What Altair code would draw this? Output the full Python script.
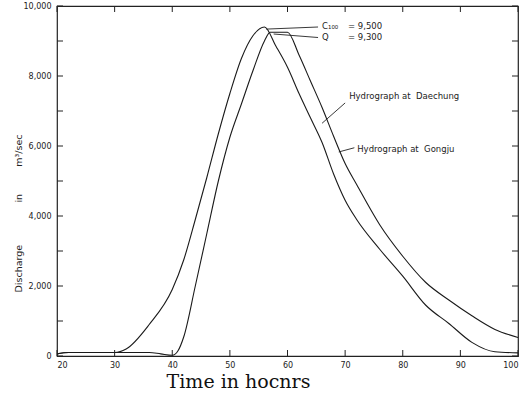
import altair as alt
import pandas as pd

# ---- data ----
dae_t = [20, 22, 30, 32, 36, 40, 42, 44, 46, 48, 50, 52, 54, 56, 58, 60, 62, 64, 66, 68, 70, 72, 76, 80, 84, 88, 92, 96, 100]
dae_q = [60, 100, 100, 200, 900, 1900, 2750, 3900, 5100, 6350, 7500, 8500, 9150, 9400, 8850, 8250, 7500, 6800, 6100, 5200, 4450, 3900, 3050, 2280, 1450, 930, 390, 120, 90]

gon_t = [20, 22, 30, 36, 38, 40, 41, 42, 44, 46, 48, 50, 52, 54, 56, 57, 60, 62, 64, 66, 68, 70, 72, 76, 80, 84, 88, 92, 96, 100]
gon_q = [60, 100, 100, 100, 60, 20, 150, 550, 2000, 3500, 5000, 6250, 7200, 8150, 9000, 9250, 9250, 8600, 7850, 7100, 6280, 5500, 4900, 3750, 2850, 2100, 1600, 1150, 760, 530]

x_ticks = [20, 30, 40, 50, 60, 70, 80, 90, 100]
y_ticks = [0, 2000, 4000, 6000, 8000, 10000]
y_minor = [1000, 3000, 5000, 7000, 9000]

W, H = 461, 350
NB = "\u00a0"

df = pd.DataFrame(
    {"t": dae_t + gon_t,
     "q": dae_q + gon_q,
     "s": ["Daechung"] * len(dae_t) + ["Gongju"] * len(gon_t)}
)

xs = alt.Scale(domain=[20, 100], nice=False, zero=False)
ys = alt.Scale(domain=[0, 10000], nice=False)

lab_font = "DejaVu Sans"
y_title = "Discharge" + NB * 14 + "in" + NB * 9 + "m³/sec"

lines = alt.Chart(df).mark_line(strokeWidth=1.1, interpolate="monotone").encode(
    x=alt.X("t:Q", scale=xs,
            axis=alt.Axis(values=x_ticks, ticks=False, domain=False, grid=False,
                          labelFont=lab_font, labelFontSize=8, labelPadding=5,
                          labelColor="#222",
                          title="Time in hocnrs", titleFont="DejaVu Serif",
                          titleFontSize=19, titleFontWeight="normal", titleColor="#111",
                          titleX=181, titleY=31, titleBaseline="alphabetic")),
    y=alt.Y("q:Q", scale=ys,
            axis=alt.Axis(values=y_ticks, format=",d", ticks=False, domain=False, grid=False,
                          labelFont=lab_font, labelFontSize=8, labelPadding=6,
                          labelColor="#222",
                          title=y_title, titleFont=lab_font,
                          titleFontSize=9.5, titleFontWeight="normal", titleColor="#222",
                          titleAngle=270, titleX=-39, titleY=207,
                          titleAlign="center", titleBaseline="middle")),
    detail="s:N",
    color=alt.value("#1a1a1a"),
)

# inward ticks on all four sides
xt = pd.DataFrame({"v": x_ticks})
yt = pd.DataFrame({"v": y_ticks + y_minor})
tick_bottom = alt.Chart(xt).mark_rule(color="#222", strokeWidth=1).encode(
    x=alt.X("v:Q", scale=xs), y=alt.value(H), y2=alt.value(H - 6))
tick_top = alt.Chart(xt).mark_rule(color="#222", strokeWidth=1).encode(
    x=alt.X("v:Q", scale=xs), y=alt.value(0), y2=alt.value(6))
tick_left = alt.Chart(yt).mark_rule(color="#222", strokeWidth=1).encode(
    y=alt.Y("v:Q", scale=ys), x=alt.value(0), x2=alt.value(6))
tick_right = alt.Chart(yt).mark_rule(color="#222", strokeWidth=1).encode(
    y=alt.Y("v:Q", scale=ys), x=alt.value(W), x2=alt.value(W - 6))

# annotations
ann_lines = pd.DataFrame({
    "x1": [65.3, 65.3, 70.0, 71.6],
    "y1": [9400, 9100, 7230, 5950],
    "x2": [56.3, 57.6, 66.0, 68.9],
    "y2": [9340, 9200, 6650, 5830],
})
leaders = alt.Chart(ann_lines).mark_rule(color="#222", strokeWidth=0.9).encode(
    x=alt.X("x1:Q", scale=xs), y=alt.Y("y1:Q", scale=ys),
    x2="x2:Q", y2="y2:Q")

ann_text = pd.DataFrame({
    "x": [66.0, 66.0, 70.5, 70.5, 70.7, 72.1],
    "y": [9430, 9110, 9430, 9110, 7420, 5920],
    "txt": ["C₁₀₀", "Q", "= 9,500", "= 9,300",
            "Hydrograph" + NB + "at" + NB * 2 + "Daechung",
            "Hydrograph" + NB + "at" + NB * 2 + "Gongju"],
})
texts = alt.Chart(ann_text).mark_text(
    align="left", baseline="middle", font=lab_font, fontSize=8.5, color="#222"
).encode(x=alt.X("x:Q", scale=xs), y=alt.Y("y:Q", scale=ys), text="txt:N")

chart = alt.layer(lines, tick_bottom, tick_top, tick_left, tick_right, leaders, texts).properties(
    width=W, height=H,
    autosize=alt.AutoSizeParams(type="none"),
    padding={"left": 57, "top": 6, "right": 8, "bottom": 39},
    background="white",
).configure_view(stroke="#222", strokeWidth=1.2)

chart.save("out.html", embed_options={"renderer": "svg", "actions": False})
